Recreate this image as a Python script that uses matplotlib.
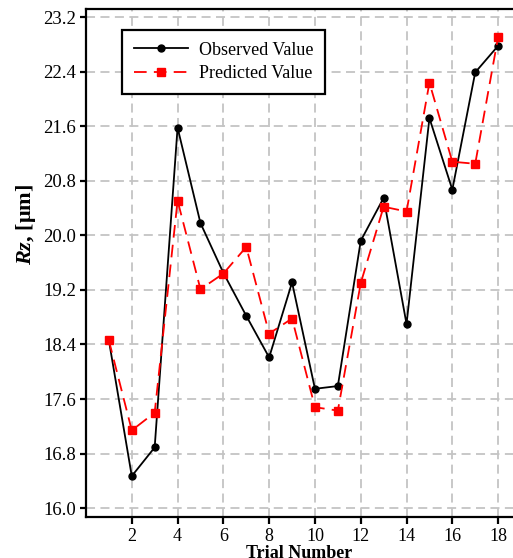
import matplotlib.pyplot as plt

plt.rcParams['font.family'] = 'Liberation Serif'
plt.rcParams['mathtext.fontset'] = 'custom'
plt.rcParams['mathtext.it'] = 'Liberation Serif:italic:bold'
plt.rcParams['mathtext.rm'] = 'Liberation Serif:bold'

# data
trials = list(range(1, 19))
observed = [18.46, 16.47, 16.89, 21.58, 20.18, 19.45, 18.82, 18.21, 19.31,
            17.75, 17.79, 19.92, 20.55, 18.70, 21.72, 20.67, 22.39, 22.78]
predicted = [18.46, 17.14, 17.40, 20.51, 19.21, 19.44, 19.83, 18.56, 18.78,
             17.48, 17.43, 19.30, 20.42, 20.35, 22.24, 21.08, 21.05, 22.91]
yticks = [16.0, 16.8, 17.6, 18.4, 19.2, 20.0, 20.8, 21.6, 22.4, 23.2]
xticks = [2, 4, 6, 8, 10, 12, 14, 16, 18]

fig = plt.figure(figsize=(5.13, 5.58), dpi=100)
ax = fig.add_axes([0.1676, 0.0735, 0.8324, 0.9104])

ax.plot(trials, observed, color='black', marker='o', markersize=5,
        linewidth=1.3, label='Observed Value', zorder=3)
ax.plot(trials, predicted, color='red', marker='s', markersize=6,
        linewidth=1.3, dashes=(7, 4), label='Predicted Value', zorder=3)

ax.set_xlim(0, 18.65)
ax.set_ylim(15.87, 23.32)
ax.set_xticks(xticks)
ax.set_yticks(yticks)
ax.set_yticklabels([f'{v:.1f}' for v in yticks])
ax.grid(True, color='#c4c4c4', linestyle=(0, (5, 3)), linewidth=1.3)

for side in ['left', 'bottom', 'top']:
    ax.spines[side].set_linewidth(1.6)
ax.spines['right'].set_visible(False)
ax.tick_params(axis='y', labelsize=13.5, width=1.6, length=4, pad=3)
ax.tick_params(axis='x', labelsize=13, width=1.6, length=5, pad=3)

ax.set_ylabel(r'$\it{Rz}$, [μm]', fontsize=16, fontweight='bold')
ax.yaxis.set_label_coords(-0.112, 0.575)
ax.set_xlabel('Trial Number', fontsize=13, fontweight='bold', labelpad=0)

leg = ax.legend(loc='upper left', bbox_to_anchor=(0.085, 0.959), borderaxespad=0,
                fontsize=13, fancybox=False, framealpha=1, edgecolor='black',
                handlelength=3, handletextpad=0.6, borderpad=0.65, labelspacing=0.35)
leg.get_frame().set_linewidth(1.6)

plt.savefig('out.png', dpi=100)
